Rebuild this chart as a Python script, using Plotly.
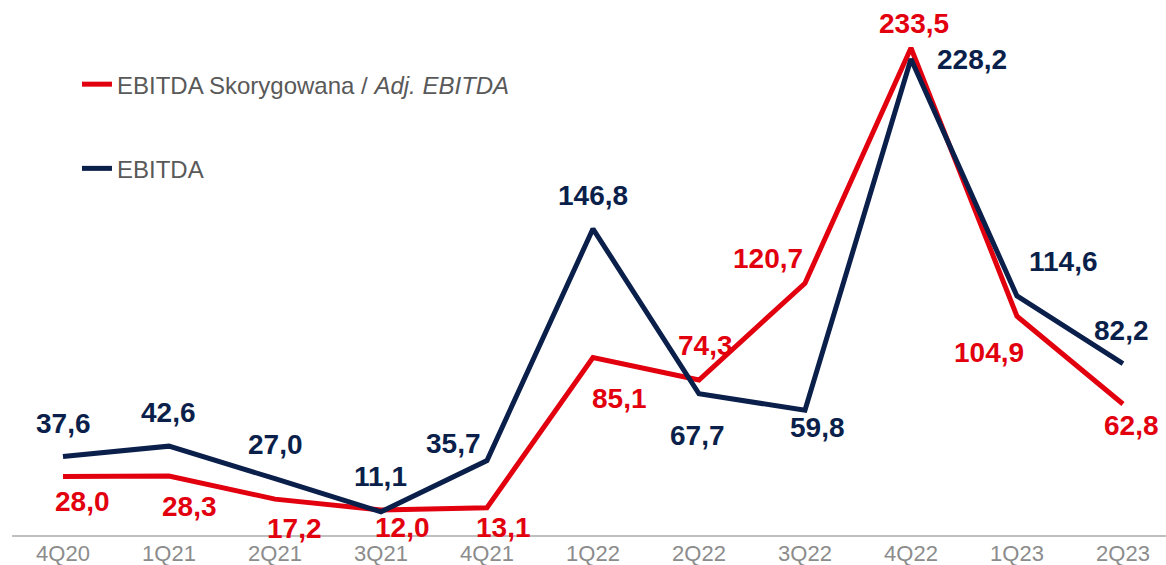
import plotly.graph_objects as go

quarters = ["4Q20", "1Q21", "2Q21", "3Q21", "4Q21", "1Q22", "2Q22", "3Q22", "4Q22", "1Q23", "2Q23"]
adj_ebitda = [28.0, 28.3, 17.2, 12.0, 13.1, 85.1, 74.3, 120.7, 233.5, 104.9, 62.8]
ebitda = [37.6, 42.6, 27.0, 11.1, 35.7, 146.8, 67.7, 59.8, 228.2, 114.6, 82.2]

adj_name = "EBITDA Skorygowana / <i>Adj. EBITDA</i>"
ebitda_name = "EBITDA"

RED = "#E2000F"
NAVY = "#0B1F4B"
FONT = "Liberation Sans, Arial, sans-serif"

# label offsets in pixels (dx right, dy down) relative to each point
ebitda_shift = [(1, -33), (0, -34), (1, -34), (0, -35), (-33, -17), (0, -33),
                (-1, 42), (13, 17), (61, 0), (47, -34), (-1, -33)]
adj_shift = [(20, 25), (21, 31), (20, 29), (22, 18), (17, 20), (27, 41),
             (7, -35), (-37, -25), (3, -24), (-28, 36), (9, 21)]


def fmt(v):
    return f"{v:.1f}".replace(".", ",")


fig = go.Figure()
fig.add_trace(go.Scatter(x=quarters, y=adj_ebitda, mode="lines", name=adj_name,
                         legendgroup="a",
                         line=dict(color=RED, width=5), hoverinfo="skip"))
fig.add_trace(go.Scatter(x=quarters, y=ebitda, mode="lines", name=ebitda_name,
                         legendgroup="b",
                         line=dict(color=NAVY, width=5), hoverinfo="skip"))

annotations = []
for q, v, (dx, dy) in zip(quarters, adj_ebitda, adj_shift):
    annotations.append(dict(x=q, y=v, text=fmt(v), showarrow=False,
                            xanchor="center", yanchor="middle",
                            xshift=dx, yshift=-dy,
                            font=dict(family=FONT, size=28, color=RED, weight="bold")))
for q, v, (dx, dy) in zip(quarters, ebitda, ebitda_shift):
    annotations.append(dict(x=q, y=v, text=fmt(v), showarrow=False,
                            xanchor="center", yanchor="middle",
                            xshift=dx, yshift=-dy,
                            font=dict(family=FONT, size=28, color=NAVY, weight="bold")))

fig.update_layout(
    width=1166, height=565,
    margin=dict(l=12, r=0, t=0, b=30, autoexpand=False),
    paper_bgcolor="white", plot_bgcolor="white",
    font=dict(family=FONT),
    showlegend=True,
    legend=dict(x=0.0563, y=0.884, xanchor="left", yanchor="top",
                font=dict(family=FONT, size=24, color="#595959"),
                tracegroupgap=50, bgcolor="rgba(0,0,0,0)"),
    annotations=annotations,
    xaxis=dict(type="category", range=[-0.481, 10.406], showgrid=False,
               showline=True, linecolor="#BFBFBF", linewidth=2, ticks="",
               automargin=False, ticklabelstandoff=-2,
               tickfont=dict(family=FONT, size=22, color="#8C8C8C"), zeroline=False),
    yaxis=dict(visible=False, range=[0, 256.5], showgrid=False, zeroline=False),
)

fig.write_html("out.html", config={"displayModeBar": False},
               post_script="document.body.style.margin='0';document.body.style.overflow='hidden';")
